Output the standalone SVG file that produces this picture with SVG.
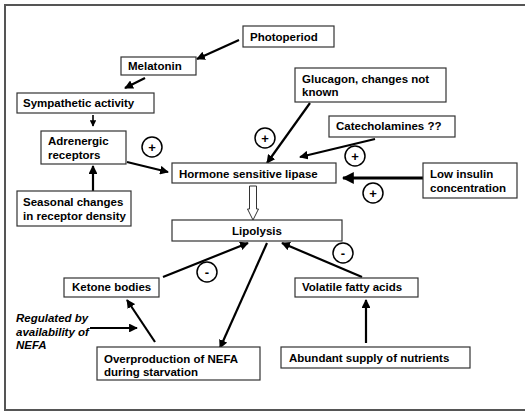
<svg xmlns="http://www.w3.org/2000/svg" width="525" height="412" viewBox="0 0 525 412">
<defs>
<marker id="ah" viewBox="0 0 10 10" refX="9" refY="5" markerWidth="4" markerHeight="4" orient="auto" markerUnits="strokeWidth">
<path d="M0,0 L10,5 L0,10 z" fill="#000"/>
</marker>
<style>
.box{fill:#fff;stroke:#333;stroke-width:1.2}
.t{font-family:"Liberation Sans",Arial,sans-serif;font-weight:bold;font-size:11.5px;fill:#000}
.it{font-family:"Liberation Sans",Arial,sans-serif;font-weight:bold;font-style:italic;font-size:11.5px;fill:#000}
.c{fill:#fff;stroke:#000;stroke-width:1.5}
.sg{font-family:"Liberation Sans",Arial,sans-serif;font-weight:bold;font-size:13px;fill:#000;text-anchor:middle}
.a{stroke:#000;stroke-width:2.2;fill:none;marker-end:url(#ah)}
</style>
</defs>
<rect width="525" height="412" fill="#fff"/>
<path d="M525,5 H5 V410 H525" fill="none" stroke="#555" stroke-width="2"/>

<g id="connectors">
<line class="a" x1="239" y1="40" x2="197" y2="59"/>
<line class="a" x1="145" y1="78" x2="125" y2="88"/>
<line class="a" x1="93" y1="115" x2="93" y2="126" style="stroke-width:1.6"/>
<line class="a" x1="93" y1="191" x2="93" y2="166"/>
<line class="a" x1="127" y1="162" x2="168" y2="172"/>
<line class="a" x1="310" y1="103" x2="267" y2="163"/>
<line class="a" x1="375" y1="139" x2="300" y2="157"/>
<line class="a" x1="423" y1="178" x2="343" y2="178" style="stroke-width:3"/>
<path d="M249.5,186 H256.5 V209 H258.5 L253,220 L247.5,209 H249.5 Z" fill="#fff" stroke="#333" stroke-width="1"/>
<line class="a" x1="163" y1="277" x2="248" y2="243"/>
<line class="a" x1="362" y1="277" x2="282" y2="243"/>
<line class="a" x1="267" y1="243" x2="220" y2="348"/>
<line class="a" x1="155" y1="342" x2="127" y2="300"/>
<line class="a" x1="90" y1="328" x2="137" y2="328"/>
<line class="a" x1="366" y1="343" x2="366" y2="300"/>
</g>

<g id="photoperiod"><rect class="box" x="243" y="26" width="91" height="21"/><text class="t" x="250" y="41">Photoperiod</text></g>
<g id="melatonin"><rect class="box" x="121" y="57" width="75" height="18"/><text class="t" x="128" y="70">Melatonin</text></g>
<g id="sympathetic"><rect class="box" x="17" y="93" width="137" height="20"/><text class="t" x="23" y="107">Sympathetic activity</text></g>
<g id="adrenergic"><rect class="box" x="41" y="131" width="85" height="33"/><text class="t" x="48" y="145">Adrenergic</text><text class="t" x="48" y="159">receptors</text></g>
<g id="seasonal"><rect class="box" x="17" y="191" width="114" height="35"/><text class="t" x="23" y="206">Seasonal changes</text><text class="t" x="23" y="220">in receptor density</text></g>
<g id="glucagon"><rect class="box" x="295" y="68" width="151" height="34"/><text class="t" x="302" y="83">Glucagon, changes not</text><text class="t" x="302" y="96">known</text></g>
<g id="catecholamines"><rect class="box" x="329" y="116" width="126" height="21"/><text class="t" x="336" y="130">Catecholamines ??</text></g>
<g id="hsl"><rect class="box" x="172" y="163" width="164" height="20"/><text class="t" x="179" y="178">Hormone sensitive lipase</text></g>
<g id="insulin"><rect class="box" x="423" y="163" width="94" height="35"/><text class="t" x="430" y="178">Low insulin</text><text class="t" x="430" y="192">concentration</text></g>
<g id="lipolysis"><rect class="box" x="172" y="220" width="170" height="21"/><text class="t" x="257" y="235" text-anchor="middle">Lipolysis</text></g>
<g id="ketone"><rect class="box" x="64" y="278" width="95" height="19"/><text class="t" x="72" y="291">Ketone bodies</text></g>
<g id="vfa"><rect class="box" x="295" y="278" width="123" height="19"/><text class="t" x="302" y="291">Volatile fatty acids</text></g>
<g id="nefa"><rect class="box" x="97" y="347" width="163" height="33"/><text class="t" x="104" y="363">Overproduction of NEFA</text><text class="t" x="104" y="376">during starvation</text></g>
<g id="abundant"><rect class="box" x="281" y="347" width="189" height="21"/><text class="t" x="289" y="362">Abundant supply of nutrients</text></g>
<g id="regulated"><text class="it" x="16" y="322">Regulated by</text><text class="it" x="16" y="335.5">availability of</text><text class="it" x="16" y="349">NEFA</text></g>

<g id="signs">
<circle class="c" cx="152" cy="147" r="10"/><text class="sg" x="152" y="151.5">+</text>
<circle class="c" cx="265" cy="138" r="10"/><text class="sg" x="265" y="142.5">+</text>
<circle class="c" cx="355" cy="156" r="10"/><text class="sg" x="355" y="160.5">+</text>
<circle class="c" cx="373" cy="193" r="10"/><text class="sg" x="373" y="197.5">+</text>
<circle class="c" cx="343" cy="253" r="10"/><text class="sg" x="343" y="257.5">-</text>
<circle class="c" cx="207" cy="272" r="10"/><text class="sg" x="207" y="276.5">-</text>
</g>
</svg>
